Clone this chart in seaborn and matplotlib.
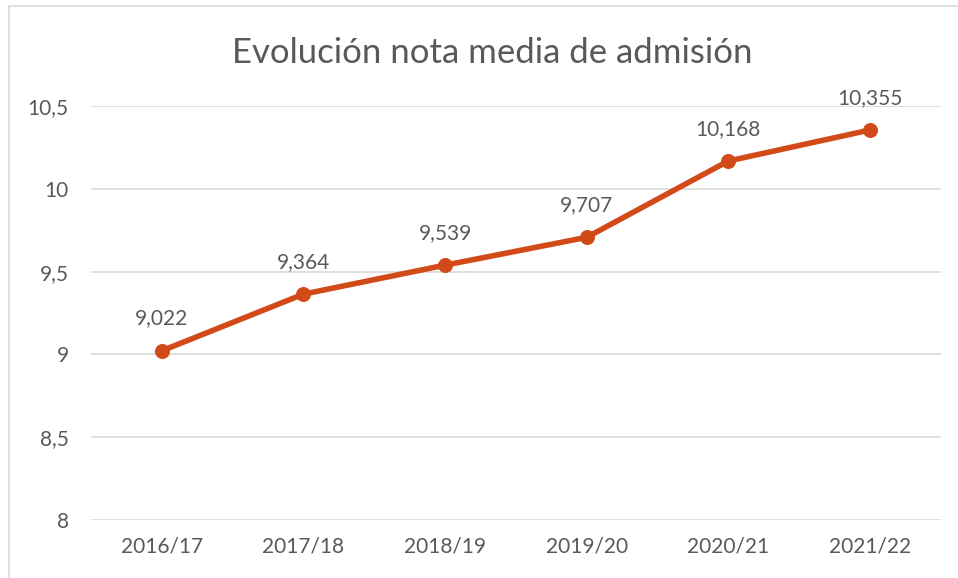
import matplotlib
matplotlib.use("Agg")
import matplotlib.pyplot as plt
import seaborn as sns
import pandas as pd

sns.set_style("white")
plt.rcParams["font.family"] = ["Lato", "DejaVu Sans"]

cursos = ["2016/17", "2017/18", "2018/19", "2019/20", "2020/21", "2021/22"]
nota = [9.022, 9.364, 9.539, 9.707, 10.168, 10.355]
etiquetas = ["9,022", "9,364", "9,539", "9,707", "10,168", "10,355"]
yticks = [8, 8.5, 9, 9.5, 10, 10.5]
ytick_labels = ["8", "8,5", "9", "9,5", "10", "10,5"]

df = pd.DataFrame({"curso": cursos, "nota": nota})

color = "#D24A18"
gris = "#595959"

fig = plt.figure(figsize=(9.58, 5.78), dpi=100)
ax = fig.add_axes([0.095, 0.1003, 0.887, 0.7163])

sns.lineplot(data=df, x="curso", y="nota", ax=ax, color=color, linewidth=4,
             marker="o", markersize=10, markeredgecolor=color, sort=False)

for i, (v, t) in enumerate(zip(nota, etiquetas)):
    ax.annotate(t, (i, v), xytext=(0, 16), textcoords="offset points",
                ha="center", va="bottom", fontsize=15, color=gris)

ax.set_xlim(-0.5, len(cursos) - 0.5)
ax.set_ylim(8, 10.5)
ax.set_yticks(yticks)
ax.set_yticklabels(ytick_labels)
ax.yaxis.grid(True, color="#D9D9D9", linewidth=1.2)
ax.set_axisbelow(True)
ax.tick_params(axis="both", labelsize=15, labelcolor=gris, length=0)
ax.tick_params(axis="y", pad=16)
ax.tick_params(axis="x", pad=12)
for s in ax.spines.values():
    s.set_visible(False)
ax.set_xlabel("")
ax.set_ylabel("")

fig.text(0.514, 0.908, "Evolución nota media de admisión", ha="center", va="center",
         fontsize=25, color=gris)

# chart area border
fig.patches.append(plt.Rectangle((9 / 958, -0.05), 1.1, 1 - 6 / 578 + 0.05,
                                 transform=fig.transFigure, fill=False,
                                 edgecolor="#D9D9D9", linewidth=1.2))

fig.savefig("out.png", dpi=100)
